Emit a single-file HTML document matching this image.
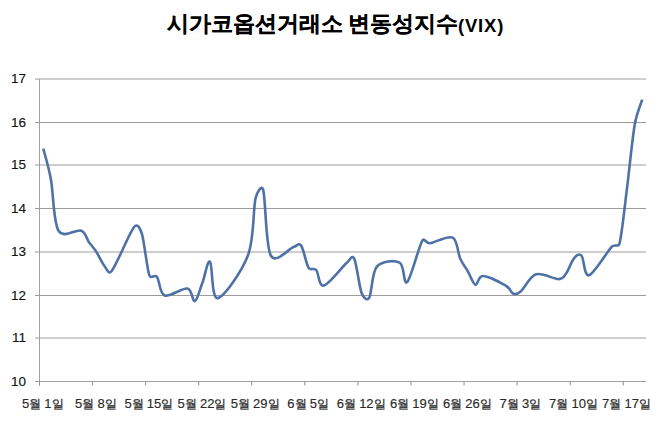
<!DOCTYPE html>
<html><head><meta charset="utf-8"><style>
html,body{margin:0;padding:0;background:#fff;width:670px;height:426px;overflow:hidden}
body{position:relative;font-family:"Liberation Sans",sans-serif;color:#222}
.t{position:absolute;top:8.5px;font-size:21.6px;line-height:30px;font-weight:bold;color:#000;white-space:nowrap;-webkit-text-stroke:0.12px #000}
.v{position:absolute;top:10.5px;left:458px;font-size:18.5px;line-height:30px;font-weight:bold;color:#000;letter-spacing:0.8px;white-space:nowrap}
.yl{position:absolute;left:0;width:26px;-webkit-text-stroke:0.15px #222;text-align:right;font-size:13.5px;line-height:18px;color:#111}
.xl{position:absolute;top:394px;width:80px;text-align:center;font-size:13px;line-height:20px;white-space:nowrap;word-spacing:-0.5px;letter-spacing:0px;color:#2a2a2a;-webkit-text-stroke:0.15px #2a2a2a}
.xl b{font-weight:normal;font-size:12.4px;-webkit-text-stroke:0.3px #333}
svg{position:absolute;left:0;top:0}
</style></head><body>
<div class="t" style="left:166.5px">시가코옵션거래소</div><div class="t" style="left:348px">변동성지수</div><div class="v">(VIX)</div>
<div class="yl" style="top:372.5px">10</div>
<div class="yl" style="top:329.0px">11</div>
<div class="yl" style="top:286.5px">12</div>
<div class="yl" style="top:243.0px">13</div>
<div class="yl" style="top:199.5px">14</div>
<div class="yl" style="top:156.0px">15</div>
<div class="yl" style="top:113.5px">16</div>
<div class="yl" style="top:70.0px">17</div>
<div class="xl" style="left:2.8px">5<b>월</b> 1<b>일</b></div>
<div class="xl" style="left:55.9px">5<b>월</b> 8<b>일</b></div>
<div class="xl" style="left:108.9px">5<b>월</b> 15<b>일</b></div>
<div class="xl" style="left:162.0px">5<b>월</b> 22<b>일</b></div>
<div class="xl" style="left:215.1px">5<b>월</b> 29<b>일</b></div>
<div class="xl" style="left:268.1px">6<b>월</b> 5<b>일</b></div>
<div class="xl" style="left:321.2px">6<b>월</b> 12<b>일</b></div>
<div class="xl" style="left:374.3px">6<b>월</b> 19<b>일</b></div>
<div class="xl" style="left:427.3px">6<b>월</b> 26<b>일</b></div>
<div class="xl" style="left:480.4px">7<b>월</b> 3<b>일</b></div>
<div class="xl" style="left:533.5px">7<b>월</b> 10<b>일</b></div>
<div class="xl" style="left:586.5px">7<b>월</b> 17<b>일</b></div>

<svg width="670" height="426" viewBox="0 0 670 426">
<line x1="35" y1="338.00" x2="646.0" y2="338.00" stroke="#9c9c9c" stroke-width="1"/>
<line x1="35" y1="295.50" x2="646.0" y2="295.50" stroke="#9c9c9c" stroke-width="1"/>
<line x1="35" y1="252.00" x2="646.0" y2="252.00" stroke="#9c9c9c" stroke-width="1"/>
<line x1="35" y1="208.50" x2="646.0" y2="208.50" stroke="#9c9c9c" stroke-width="1"/>
<line x1="35" y1="165.00" x2="646.0" y2="165.00" stroke="#9c9c9c" stroke-width="1"/>
<line x1="35" y1="122.50" x2="646.0" y2="122.50" stroke="#9c9c9c" stroke-width="1"/>
<line x1="35" y1="79.00" x2="646.0" y2="79.00" stroke="#9c9c9c" stroke-width="1"/>
<line x1="35" y1="381.5" x2="646.0" y2="381.5" stroke="#a0a0a0" stroke-width="1"/>
<line x1="39.5" y1="79.0" x2="39.5" y2="385.5" stroke="#a0a0a0" stroke-width="1"/>
<line x1="39.50" y1="381.5" x2="39.50" y2="385.5" stroke="#909090" stroke-width="1"/>
<line x1="92.57" y1="381.5" x2="92.57" y2="385.5" stroke="#909090" stroke-width="1"/>
<line x1="145.64" y1="381.5" x2="145.64" y2="385.5" stroke="#909090" stroke-width="1"/>
<line x1="198.71" y1="381.5" x2="198.71" y2="385.5" stroke="#909090" stroke-width="1"/>
<line x1="251.78" y1="381.5" x2="251.78" y2="385.5" stroke="#909090" stroke-width="1"/>
<line x1="304.84" y1="381.5" x2="304.84" y2="385.5" stroke="#909090" stroke-width="1"/>
<line x1="357.91" y1="381.5" x2="357.91" y2="385.5" stroke="#909090" stroke-width="1"/>
<line x1="410.98" y1="381.5" x2="410.98" y2="385.5" stroke="#909090" stroke-width="1"/>
<line x1="464.05" y1="381.5" x2="464.05" y2="385.5" stroke="#909090" stroke-width="1"/>
<line x1="517.12" y1="381.5" x2="517.12" y2="385.5" stroke="#909090" stroke-width="1"/>
<line x1="570.19" y1="381.5" x2="570.19" y2="385.5" stroke="#909090" stroke-width="1"/>
<line x1="623.26" y1="381.5" x2="623.26" y2="385.5" stroke="#909090" stroke-width="1"/>

<path d="M43.29,148.57 C44.55,153.69 48.34,165.57 50.87,179.26 C53.40,192.94 53.40,222.11 58.45,230.68 C63.51,239.25 76.14,228.81 81.20,230.68 C86.25,232.55 86.25,238.39 88.78,241.92 C91.31,245.45 93.83,247.97 96.36,251.86 C98.89,255.75 101.41,262.01 103.94,265.25 C106.47,268.49 108.52,275.11 111.52,271.30 C116.58,264.89 129.21,233.06 134.27,226.79 C137.49,222.80 140.33,228.81 141.85,233.71 C144.37,241.85 146.90,268.42 149.43,275.62 C150.70,279.25 154.68,273.86 157.01,276.92 C159.54,280.23 159.54,293.56 164.59,295.50 C169.64,297.45 182.28,287.65 187.33,288.59 C192.39,289.53 192.39,302.13 194.92,301.12 C197.44,300.11 199.97,289.09 202.50,282.54 C205.02,275.99 207.55,259.20 210.08,261.80 C212.61,264.39 211.34,299.18 217.66,298.10 C223.98,297.02 241.67,271.95 247.98,255.31 C254.30,238.68 253.04,209.22 255.57,198.27 C256.86,192.67 261.67,184.07 263.15,189.63 C265.67,199.14 265.67,245.74 270.73,255.31 C275.78,264.89 288.42,248.76 293.47,247.10 C297.17,245.89 298.76,242.24 301.05,245.37 C303.58,248.83 306.11,263.74 308.63,267.85 C310.70,271.20 313.69,267.05 316.22,270.01 C318.74,272.96 318.74,286.72 323.80,285.56 C328.85,284.41 341.49,267.63 346.54,263.09 C349.87,260.10 352.12,254.34 354.12,258.34 C356.65,263.38 359.18,286.79 361.70,293.34 C363.27,297.41 367.14,301.46 369.28,297.66 C371.81,293.20 371.81,272.38 376.87,266.55 C381.92,260.72 394.56,260.07 399.61,262.66 C404.66,265.25 403.40,285.78 407.19,282.11 C410.98,278.43 418.56,247.10 422.35,240.62 C424.38,237.16 425.95,243.61 429.93,243.21 C434.99,242.71 447.62,235.00 452.68,237.60 C457.73,240.19 457.73,253.15 460.26,258.77 C462.79,264.39 465.31,266.98 467.84,271.30 C470.37,275.62 472.89,283.91 475.42,284.70 C477.95,285.49 477.95,275.91 483.00,276.06 C488.06,276.20 500.69,282.61 505.75,285.56 C510.57,288.38 510.80,292.84 513.33,293.78 C515.86,294.71 517.86,293.79 520.91,291.18 C524.70,287.94 529.75,276.35 536.07,274.33 C542.39,272.31 553.76,279.30 558.82,279.08 C563.66,278.88 563.87,276.49 566.40,273.03 C568.92,269.57 571.45,261.22 573.98,258.34 C576.51,255.46 579.03,252.94 581.56,255.75 C584.09,258.56 584.09,276.71 589.14,275.19 C594.19,273.68 606.83,251.93 611.88,246.67 C614.71,243.73 618.45,247.60 619.47,243.65 C621.99,233.85 624.52,207.63 627.05,187.90 C629.57,168.17 632.10,139.93 634.63,125.24 C636.88,112.13 640.95,103.99 642.21,99.74" fill="none" stroke="#4e72a6" stroke-width="2.6" stroke-linecap="butt" stroke-linejoin="round"/>
</svg>
</body></html>
